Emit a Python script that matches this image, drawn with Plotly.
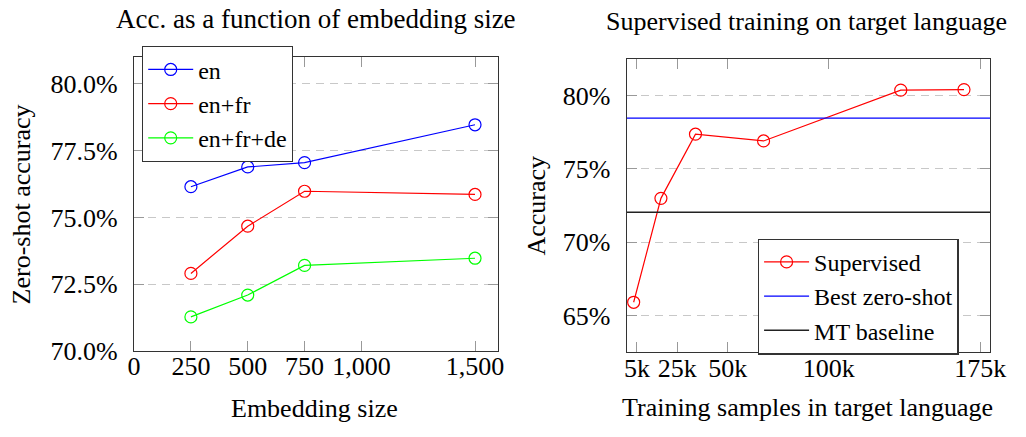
import plotly.graph_objects as go

# ---- Left chart data ----
emb_sizes = [250, 500, 750, 1500]
acc_en = [76.15, 76.89, 77.05, 78.47]
acc_en_fr = [72.90, 74.67, 75.98, 75.86]
acc_en_fr_de = [71.27, 72.09, 73.20, 73.47]
left_xticks = [0, 250, 500, 750, 1000, 1500]
left_xtick_text = ["0", "250", "500", "750", "1,000", "1,500"]
left_yticks = [70.0, 72.5, 75.0, 77.5, 80.0]
left_ytick_text = ["70.0%", "72.5%", "75.0%", "77.5%", "80.0%"]

# ---- Right chart data ----
train_samples = [3400, 16900, 34000, 67700, 135600, 166900]
acc_supervised = [65.92, 73.0, 77.37, 76.91, 80.37, 80.41]
best_zero_shot = 78.47
mt_baseline = 72.06
right_xrange = [0, 180000]
right_xticks = [5000, 25000, 50000, 100000, 175000]
right_xtick_text = ["5k", "25k", "50k", "100k", "175k"]
right_yticks = [65, 70, 75, 80]
right_ytick_text = ["65%", "70%", "75%", "80%"]

W, H = 1026, 437
FONT = "Liberation Serif"
FS = 26
LFS = 24

def px_x(v):
    return v / W

def px_y(v):
    return 1 - v / H

fig = go.Figure()

mk = dict(symbol="circle-open", size=12, line=dict(width=1.2))
fig.add_trace(go.Scatter(x=emb_sizes, y=acc_en, name="en", mode="lines+markers",
                         line=dict(color="#0000FF", width=1.2), marker=dict(color="#0000FF", **mk),
                         xaxis="x", yaxis="y", legend="legend"))
fig.add_trace(go.Scatter(x=emb_sizes, y=acc_en_fr, name="en+fr", mode="lines+markers",
                         line=dict(color="#FF0000", width=1.2), marker=dict(color="#FF0000", **mk),
                         xaxis="x", yaxis="y", legend="legend"))
fig.add_trace(go.Scatter(x=emb_sizes, y=acc_en_fr_de, name="en+fr+de", mode="lines+markers",
                         line=dict(color="#00FF00", width=1.2), marker=dict(color="#00FF00", **mk),
                         xaxis="x", yaxis="y", legend="legend"))

fig.add_trace(go.Scatter(x=train_samples, y=acc_supervised, name="Supervised", mode="lines+markers",
                         line=dict(color="#FF0000", width=1.2), marker=dict(color="#FF0000", **mk),
                         xaxis="x2", yaxis="y2", legend="legend2"))
fig.add_trace(go.Scatter(x=right_xrange, y=[best_zero_shot] * 2, name="Best zero-shot", mode="lines",
                         line=dict(color="#0000FF", width=1.3),
                         xaxis="x2", yaxis="y2", legend="legend2"))
fig.add_trace(go.Scatter(x=right_xrange, y=[mt_baseline] * 2, name="MT baseline", mode="lines",
                         line=dict(color="#222222", width=1.5),
                         xaxis="x2", yaxis="y2", legend="legend2"))

axis_common = dict(
    showline=True, linecolor="#333333", linewidth=1.3, mirror="ticks",
    ticks="inside", ticklen=10, tickcolor="#999999", tickwidth=1.2,
    tickfont=dict(family=FONT, size=FS, color="black"),
    zeroline=False,
)

legend_common = dict(xanchor="left", yanchor="top", bgcolor="white",
                     bordercolor="#333333", borderwidth=1.3,
                     font=dict(family=FONT, size=LFS), itemwidth=45, tracegroupgap=0)

fig.update_layout(
    width=W, height=H,
    margin=dict(l=0, r=0, t=0, b=0),
    plot_bgcolor="white", paper_bgcolor="white",
    font=dict(family=FONT, size=FS, color="black"),
    xaxis=dict(domain=[px_x(130), px_x(502)], range=[0, 1600],
               tickvals=left_xticks, ticktext=left_xtick_text, showgrid=False,
               anchor="y", ticklabelstandoff=-8, **axis_common),
    yaxis=dict(domain=[px_y(363.3), px_y(59.3)], range=[70, 81],
               tickvals=left_yticks, ticktext=left_ytick_text,
               showgrid=True, gridcolor="#C8C8C8", griddash="8px,6px", gridwidth=1.2,
               anchor="x", ticklabelstandoff=10, **axis_common),
    xaxis2=dict(domain=[px_x(634), px_x(1006)], range=right_xrange,
                tickvals=right_xticks, ticktext=right_xtick_text, showgrid=False,
                anchor="y2", ticklabelstandoff=-8, **axis_common),
    yaxis2=dict(domain=[px_y(365), px_y(61)], range=[62.5, 82.5],
                tickvals=right_yticks, ticktext=right_ytick_text,
                showgrid=True, gridcolor="#C8C8C8", griddash="8px,6px", gridwidth=1.2,
                anchor="x2", ticklabelstandoff=10, **axis_common),
    legend=dict(x=px_x(138), y=px_y(47.7), **legend_common),
    legend2=dict(x=px_x(768), y=px_y(247), **legend_common),
    showlegend=True,
)

ann = dict(showarrow=False, xref="paper", yref="paper")
fig.add_annotation(text="Acc. as a function of embedding size", x=px_x(316), y=px_y(20),
                   xanchor="center", yanchor="middle",
                   font=dict(family=FONT, size=27, color="black"), **ann)
fig.add_annotation(text="Supervised training on target language", x=px_x(818), y=px_y(22.5),
                   xanchor="center", yanchor="middle",
                   font=dict(family=FONT, size=FS, color="black"), **ann)
fig.add_annotation(text="Embedding size", x=px_x(315), y=px_y(423),
                   xanchor="center", yanchor="middle",
                   font=dict(family=FONT, size=FS, color="black"), **ann)
fig.add_annotation(text="Training samples in target language", x=px_x(819), y=px_y(422),
                   xanchor="center", yanchor="middle",
                   font=dict(family=FONT, size=FS, color="black"), **ann)
fig.add_annotation(text="Zero-shot accuracy", x=px_x(15), y=px_y(212),
                   xanchor="center", yanchor="middle", textangle=-90,
                   font=dict(family=FONT, size=FS, color="black"), **ann)
fig.add_annotation(text="Accuracy", x=px_x(542), y=px_y(213),
                   xanchor="center", yanchor="middle", textangle=-90,
                   font=dict(family=FONT, size=FS, color="black"), **ann)

fig.write_html("out.html", config={"displayModeBar": False},
               post_script="document.body.style.margin='0px';document.body.style.overflow='hidden';")
